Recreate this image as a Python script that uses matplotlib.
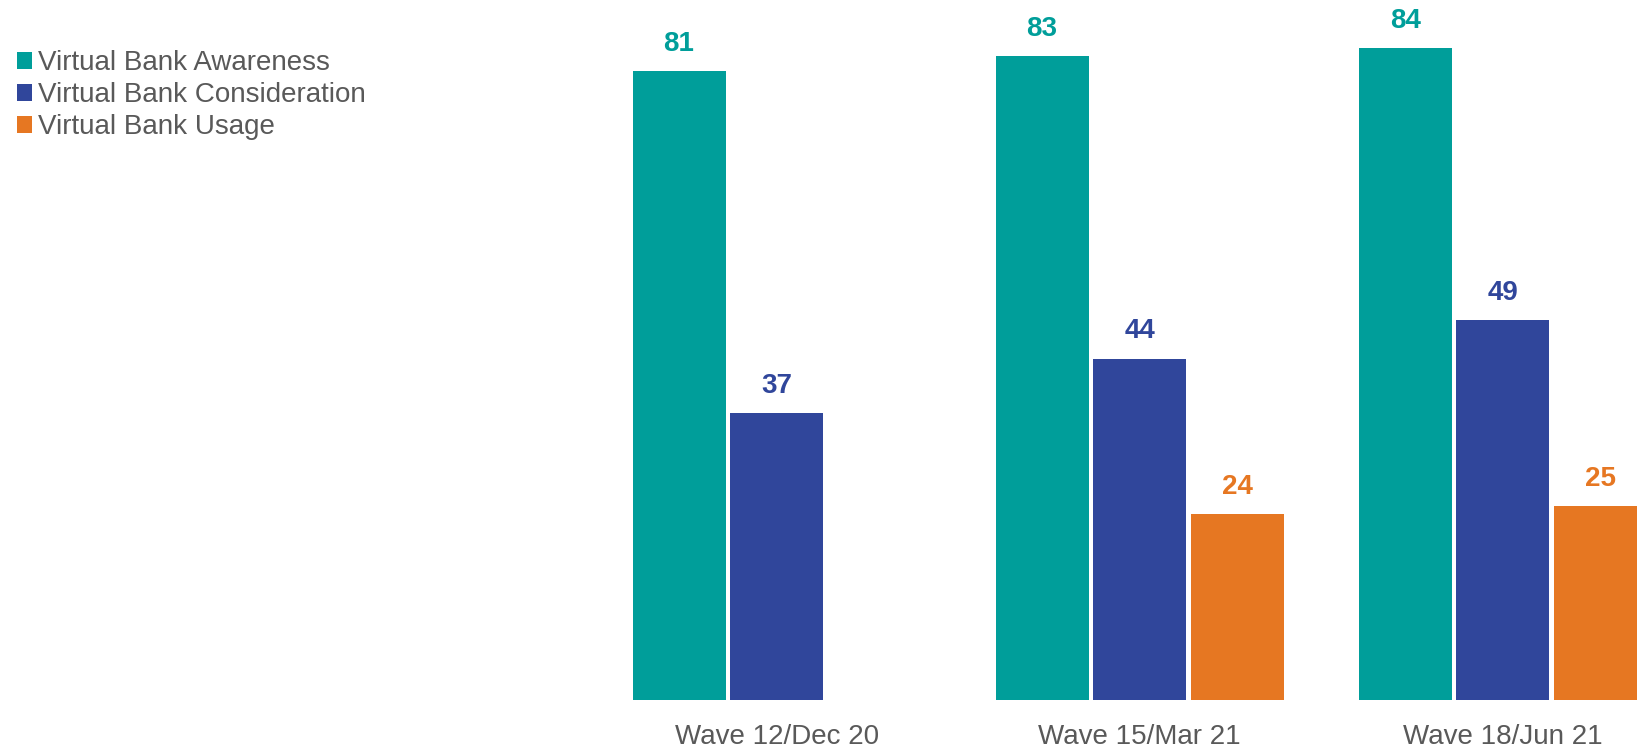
import matplotlib
matplotlib.use("Agg")
import numpy as np
import matplotlib.pyplot as plt
from matplotlib.patches import Patch

plt.rcParams['font.family'] = ['Liberation Sans', 'DejaVu Sans']

# survey waves and the three measures (percent)
waves = ["Wave 12/Dec 20", "Wave 15/Mar 21", "Wave 18/Jun 21"]
series = ["Virtual Bank Awareness", "Virtual Bank Consideration", "Virtual Bank Usage"]
awareness = [81, 83, 84]
consideration = [37, 44, 49]
usage = [None, 24, 25]

colors = ["#009E9A", "#30469B", "#E67722"]
grey = "#595959"

fig = plt.figure(figsize=(16.37, 7.49), dpi=100)
ax = fig.add_axes([0, 0, 1, 1])
ax.set_xlim(-2.139, 2.370)
ax.set_ylim(-6.31, 90.2)
ax.axis("off")

x = np.arange(len(waves))
width = 0.256
step = 0.2686

for i, (vals, col) in enumerate(zip([awareness, consideration, usage], colors)):
    for xi, v in zip(x, vals):
        if v is None:
            continue
        pos = xi + (i - 1) * step
        ax.bar(pos, v, width=width, color=col, linewidth=0)
        ax.text(pos, v + 2.6, str(v), ha="center", va="baseline",
                fontsize=20, fontweight="bold", color=col)

for xi, w in zip(x, waves):
    ax.text(xi, -4.75, w, ha="center", va="center", fontsize=20, color=grey)

handles = [Patch(facecolor=c, edgecolor="none") for c in colors]
fig.legend(handles, series, loc="upper left", bbox_to_anchor=(17 / 1637, 1 - 50 / 749),
           frameon=False, fontsize=20, handlelength=0.55, handleheight=0.55,
           handletextpad=0.2, labelspacing=0.22, borderpad=0, borderaxespad=0,
           labelcolor=grey)

fig.savefig("out.png", dpi=100)
